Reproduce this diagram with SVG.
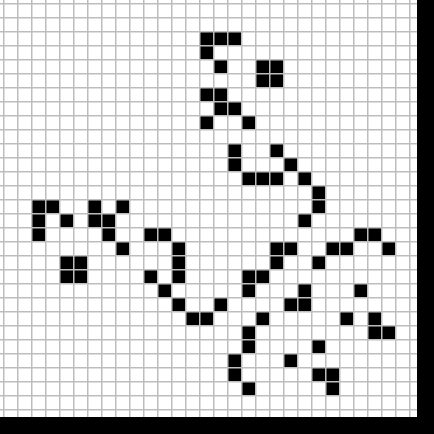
<svg xmlns="http://www.w3.org/2000/svg" width="434" height="434" viewBox="0 0 434 434">
<style>
.bg{fill:#ffffff}
.c{fill:#000000}
.grid{stroke:#bdbdbd;stroke-width:1.5;fill:none}
.frame{fill:#000000}
</style>
<defs>
<rect id="cell" width="14" height="14"/>
</defs>
<rect class="bg" x="0" y="0" width="434" height="434"/>
<g id="cells" class="c">
<use href="#cell" x="199" y="31"/><use href="#cell" x="213" y="31"/><use href="#cell" x="227" y="31"/>
<use href="#cell" x="199" y="45"/>
<use href="#cell" x="213" y="59"/><use href="#cell" x="255" y="59"/><use href="#cell" x="269" y="59"/>
<use href="#cell" x="255" y="73"/><use href="#cell" x="269" y="73"/>
<use href="#cell" x="199" y="87"/><use href="#cell" x="213" y="87"/>
<use href="#cell" x="213" y="101"/><use href="#cell" x="227" y="101"/>
<use href="#cell" x="199" y="115"/><use href="#cell" x="241" y="115"/>
<use href="#cell" x="227" y="143"/><use href="#cell" x="269" y="143"/>
<use href="#cell" x="227" y="157"/><use href="#cell" x="283" y="157"/>
<use href="#cell" x="241" y="171"/><use href="#cell" x="255" y="171"/><use href="#cell" x="269" y="171"/><use href="#cell" x="297" y="171"/>
<use href="#cell" x="311" y="185"/>
<use href="#cell" x="31" y="199"/><use href="#cell" x="45" y="199"/><use href="#cell" x="87" y="199"/><use href="#cell" x="115" y="199"/><use href="#cell" x="311" y="199"/>
<use href="#cell" x="31" y="213"/><use href="#cell" x="59" y="213"/><use href="#cell" x="87" y="213"/><use href="#cell" x="101" y="213"/><use href="#cell" x="297" y="213"/>
<use href="#cell" x="31" y="227"/><use href="#cell" x="101" y="227"/><use href="#cell" x="143" y="227"/><use href="#cell" x="157" y="227"/><use href="#cell" x="353" y="227"/><use href="#cell" x="367" y="227"/>
<use href="#cell" x="115" y="241"/><use href="#cell" x="171" y="241"/><use href="#cell" x="269" y="241"/><use href="#cell" x="283" y="241"/><use href="#cell" x="325" y="241"/><use href="#cell" x="339" y="241"/><use href="#cell" x="381" y="241"/>
<use href="#cell" x="59" y="255"/><use href="#cell" x="73" y="255"/><use href="#cell" x="171" y="255"/><use href="#cell" x="269" y="255"/><use href="#cell" x="311" y="255"/>
<use href="#cell" x="59" y="269"/><use href="#cell" x="73" y="269"/><use href="#cell" x="143" y="269"/><use href="#cell" x="171" y="269"/><use href="#cell" x="241" y="269"/><use href="#cell" x="255" y="269"/>
<use href="#cell" x="157" y="283"/><use href="#cell" x="241" y="283"/><use href="#cell" x="297" y="283"/><use href="#cell" x="353" y="283"/>
<use href="#cell" x="171" y="297"/><use href="#cell" x="213" y="297"/><use href="#cell" x="283" y="297"/><use href="#cell" x="297" y="297"/>
<use href="#cell" x="185" y="311"/><use href="#cell" x="199" y="311"/><use href="#cell" x="255" y="311"/><use href="#cell" x="339" y="311"/><use href="#cell" x="367" y="311"/>
<use href="#cell" x="241" y="325"/><use href="#cell" x="367" y="325"/><use href="#cell" x="381" y="325"/>
<use href="#cell" x="241" y="339"/><use href="#cell" x="311" y="339"/>
<use href="#cell" x="227" y="353"/><use href="#cell" x="283" y="353"/>
<use href="#cell" x="227" y="367"/><use href="#cell" x="311" y="367"/><use href="#cell" x="325" y="367"/>
<use href="#cell" x="241" y="381"/><use href="#cell" x="325" y="381"/>
</g>
<path id="grid" class="grid" d="M3.75 0V417M17.75 0V417M31.75 0V417M45.75 0V417M59.75 0V417M73.75 0V417M87.75 0V417M101.75 0V417M115.75 0V417M129.75 0V417M143.75 0V417M157.75 0V417M171.75 0V417M185.75 0V417M199.75 0V417M213.75 0V417M227.75 0V417M241.75 0V417M255.75 0V417M269.75 0V417M283.75 0V417M297.75 0V417M311.75 0V417M325.75 0V417M339.75 0V417M353.75 0V417M367.75 0V417M381.75 0V417M395.75 0V417M409.75 0V417M0 3.75H417M0 17.75H417M0 31.75H417M0 45.75H417M0 59.75H417M0 73.75H417M0 87.75H417M0 101.75H417M0 115.75H417M0 129.75H417M0 143.75H417M0 157.75H417M0 171.75H417M0 185.75H417M0 199.75H417M0 213.75H417M0 227.75H417M0 241.75H417M0 255.75H417M0 269.75H417M0 283.75H417M0 297.75H417M0 311.75H417M0 325.75H417M0 339.75H417M0 353.75H417M0 367.75H417M0 381.75H417M0 395.75H417M0 409.75H417"/>
<g id="frame" class="frame">
<rect x="417" y="0" width="17" height="434"/>
<rect x="0" y="417" width="434" height="17"/>
</g>
</svg>
